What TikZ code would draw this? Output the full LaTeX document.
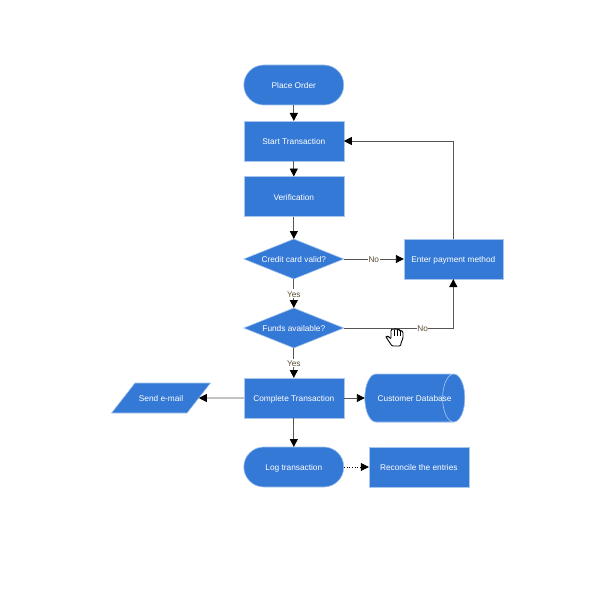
\documentclass[tikz,border=0pt]{standalone}
\usepackage{fontspec}
\setmainfont{Liberation Sans}
\usetikzlibrary{positioning,arrows.meta,shapes.geometric}
\definecolor{boxc}{RGB}{53,121,214}
\definecolor{edgec}{RGB}{168,198,238}
\definecolor{linec}{RGB}{85,85,85}
\definecolor{lblc}{RGB}{92,78,50}
\tikzset{
  box/.style      = {draw=edgec, fill=boxc, text=white, line width=0.6pt, outer sep=0pt,
                     minimum width=100pt, minimum height=40pt, inner sep=0pt,
                     text height=7.4pt, text depth=0pt, font=\fontsize{8.3}{10}\selectfont},
  process/.style  = {box},
  terminal/.style = {box, rounded corners=19.9pt},
  decision/.style = {box, shape=diamond, aspect=2.5, minimum width=100pt, minimum height=40pt},
  email/.style    = {box, shape=trapezium, trapezium left angle=52, trapezium right angle=128,
                     trapezium stretches body=true, minimum width=99pt, minimum height=0pt, inner ysep=11.3pt},
  store/.style    = {box, shape=cylinder, shape border rotate=0, shape aspect=3, cylinder uses custom fill,
                     cylinder body fill=boxc, cylinder end fill=boxc, minimum width=48pt, minimum height=100pt},
  flow/.style     = {-{Triangle[length=8pt,width=8pt,black]}, line width=0.9pt, draw=linec},
  weak/.style     = {-{Triangle[length=8pt,width=8pt,black]}, line width=0.7pt, draw=black, dotted},
  lbl/.style      = {font=\fontsize{8.3}{10}\selectfont, text=lblc, fill=white, inner sep=0.5pt,
                     text height=7.5pt, text depth=0pt},
}
\begin{document}
\begin{tikzpicture}[x=1pt,y=1pt]
\useasboundingbox (0,0) rectangle (596,-588);

% --- main column --------------------------------------------------------
\node[terminal] (order) at (293.8,-85) {Place Order};
\node[process, below=16pt of order] (start) {Start Transaction};
\node[process, below=15.5pt of start] (verify) {Verification};
\node[decision, below=22.5pt of verify] (card) {Credit card valid?};
\node[decision, below=29pt of card] (funds) {Funds available?};
\node[process, below=30pt of funds] (complete) {Complete Transaction};
\node[terminal, below=29pt of complete] (log) {Log transaction};

% --- side nodes ---------------------------------------------------------
\node[process, right=60pt of card, minimum width=99pt] (payment) {Enter payment method};
\node[email, left=45pt of complete] (mail) {Send e-mail};
\node[store, right=21pt of complete] (db) {\makebox[60pt][c]{\hspace*{11pt}Customer Database}};
\node[process, right=25pt of log] (reconcile) {Reconcile the entries};

% --- flows --------------------------------------------------------------
\draw[flow] (order) -- (start);
\draw[flow] (start) -- (verify);
\draw[flow] (verify) -- (card);
\draw[flow] (card) -- node[lbl] (yes) {Yes} (funds);
\draw[flow] (funds) -- node[lbl] (yes2) {Yes} (complete);
\draw[flow] (card) -- node[lbl] (no) {No} (payment);
\draw[flow] (funds) -| node[lbl, pos=0.36] (no2) {No} (payment);
\draw[flow] (payment) |- (start);
\draw[flow] (complete) -- (mail);
\draw[flow] (complete) -- (db);
\draw[flow] (complete) -- (log);
\draw[weak] (log) -- (reconcile);

% hand cursor
\begin{scope}[shift={(386,-328)}, y=-1pt]
\draw[fill=white, line width=0.9pt, rounded corners=1pt]
  (0,9) -- (1.5,8) -- (3,9) -- (5,11) -- (5,2) -- (6.5,0.5) -- (8,2) -- (9.5,0.5) -- (11,1.5)
  -- (12.5,1) -- (14,3) -- (15.5,2.5) -- (17,4) -- (17,10) -- (15,15) -- (14.5,18) -- (6,18)
  -- (4,15) -- cycle;
\draw[line width=0.6pt] (8,2) -- (8,8) (11,1.5) -- (11,8) (14,3) -- (14,8);
\end{scope}

\end{tikzpicture}
\end{document}
